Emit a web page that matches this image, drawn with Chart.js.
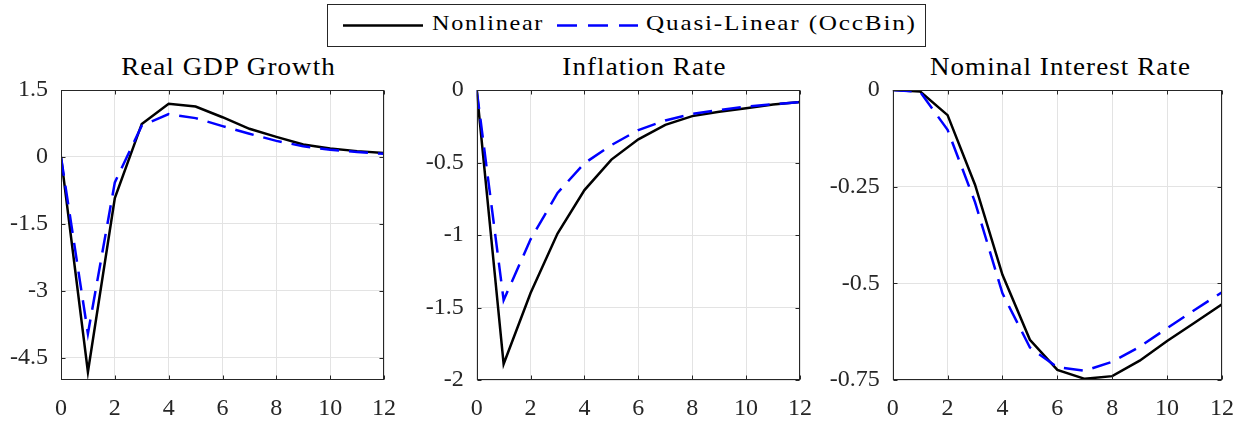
<!DOCTYPE html>
<html>
<head>
<meta charset="utf-8">
<script src="https://cdn.jsdelivr.net/npm/chart.js@4.4.1/dist/chart.umd.min.js"></script>
<style>
  body{margin:0;background:#fff;width:1248px;height:421px;overflow:hidden;position:relative;font-family:"Liberation Serif",serif;}
  canvas{position:absolute;top:50px;}
  #legend{position:absolute;left:327px;top:4px;width:599px;height:43px;box-sizing:border-box;border:1px solid #262626;background:#fff;}
  #legend svg{position:absolute;left:0;top:0;}
  #legend span{position:absolute;top:8px;font-size:21px;line-height:21px;letter-spacing:1.5px;color:#000;white-space:nowrap;transform-origin:0 50%;}
  .title{position:absolute;top:54px;font-size:25px;line-height:25px;letter-spacing:1px;text-align:center;color:#000;white-space:nowrap;transform:scaleX(1.08);}
</style>
</head>
<body>
<div id="legend">
  <svg width="597" height="41">
    <line x1="15" y1="20.5" x2="95" y2="20.5" stroke="#000" stroke-width="2.5"/>
    <line x1="229" y1="20.5" x2="310" y2="20.5" stroke="#0000ff" stroke-width="2.5" stroke-dasharray="20 11"/>
  </svg>
  <span style="left:104px;transform:scaleX(1.15)">Nonlinear</span>
  <span style="left:318px;transform:scaleX(1.2)">Quasi-Linear (OccBin)</span>
</div>
<div class="title" style="left:61px;width:335px">Real GDP Growth</div>
<div class="title" style="left:477px;width:335px">Inflation Rate</div>
<div class="title" style="left:893px;width:335px">Nominal Interest Rate</div>
<canvas id="gdp" width="410" height="371" style="left:0px"></canvas>
<canvas id="infl" width="416" height="371" style="left:410px"></canvas>
<canvas id="rate" width="428" height="371" style="left:820px"></canvas>
<script>
const periods = [0,1,2,3,4,5,6,7,8,9,10,11,12];
const xTicks = [0,2,4,6,8,10,12];

const gdpNonlinear = [0, -4.82, -0.92, 0.74, 1.19, 1.13, 0.89, 0.63, 0.45, 0.28, 0.19, 0.13, 0.09];
const gdpOccBin = [0, -3.96, -0.57, 0.70, 0.96, 0.87, 0.69, 0.52, 0.36, 0.24, 0.16, 0.11, 0.07];
const gdpTicks = [-4.5, -3, -1.5, 0, 1.5];

const inflNonlinear = [0, -1.89, -1.40, -0.99, -0.69, -0.48, -0.34, -0.24, -0.18, -0.15, -0.126, -0.10, -0.083];
const inflOccBin = [0, -1.45, -1.03, -0.71, -0.505, -0.38, -0.276, -0.21, -0.165, -0.138, -0.115, -0.098, -0.083];
const inflTicks = [-2, -1.5, -1, -0.5, 0];

const rateNonlinear = [0, -0.004, -0.065, -0.245, -0.478, -0.646, -0.724, -0.747, -0.74, -0.70, -0.649, -0.602, -0.554];
const rateOccBin = [0, -0.005, -0.103, -0.29, -0.526, -0.666, -0.717, -0.726, -0.703, -0.664, -0.616, -0.569, -0.523];
const rateTicks = [-0.75, -0.5, -0.25, 0];

const axisColor = "#262626";
const gridColor = "#e3e3e3";
const font = "'Liberation Serif', 'Times New Roman', serif";

// box round the plot + inward ticks, like matlab's "box on"
const boxPlugin = {
  id: "box",
  afterDatasetsDraw(chart){
    const { ctx, chartArea: a, scales: { x, y } } = chart;
    const l = Math.round(a.left) + 0.5, r = Math.round(a.right) - 0.5;
    const t = Math.round(a.top) + 0.5, b = Math.round(a.bottom) - 0.5;
    ctx.save();
    ctx.strokeStyle = axisColor;
    ctx.lineWidth = 1;
    ctx.strokeRect(l, t, r - l, b - t);
    ctx.beginPath();
    x.ticks.forEach(tk => {
      const px = Math.round(x.getPixelForValue(tk.value)) + 0.5;
      ctx.moveTo(px, b); ctx.lineTo(px, b - 4);
      ctx.moveTo(px, t); ctx.lineTo(px, t + 4);
    });
    y.ticks.forEach(tk => {
      const py = Math.round(y.getPixelForValue(tk.value)) + 0.5;
      ctx.moveTo(l, py); ctx.lineTo(l + 4, py);
      ctx.moveTo(r, py); ctx.lineTo(r - 4, py);
    });
    ctx.stroke();
    ctx.restore();
  }
};

function points(values){
  return periods.map((p, i) => ({ x: p, y: values[i] }));
}

function makeChart(id, nonlin, occ, yMin, yMax, yTicks, yWidth, padRight){
  return new Chart(document.getElementById(id), {
    type: "line",
    data: {
      datasets: [
        { label: "Nonlinear", data: points(nonlin), borderColor: "#000", borderWidth: 2.5, pointRadius: 0, tension: 0, order: 1 },
        { label: "Quasi-Linear (OccBin)", data: points(occ), borderColor: "#0000ff", borderWidth: 2.5, borderDash: [19, 10], pointRadius: 0, tension: 0, order: 0 }
      ]
    },
    options: {
      responsive: false,
      animation: false,
      layout: { padding: { top: 40, right: padRight } },
      plugins: {
        legend: { display: false },
        tooltip: { enabled: false }
      },
      scales: {
        x: {
          type: "linear", min: 0, max: 12,
          afterBuildTicks: s => { s.ticks = xTicks.map(v => ({ value: v })); },
          afterFit: s => { s.height = 41; },
          grid: { color: gridColor, drawTicks: false },
          border: { display: false },
          ticks: { color: axisColor, font: { family: font, size: 24 }, padding: 14, maxRotation: 0, callback: v => String(v) }
        },
        y: {
          min: yMin, max: yMax,
          afterBuildTicks: s => { s.ticks = yTicks.map(v => ({ value: v })); },
          afterFit: s => { s.width = yWidth; },
          grid: { color: gridColor, drawTicks: false },
          border: { display: false },
          ticks: { color: axisColor, font: { family: font, size: 24 }, padding: 13, callback: v => String(v) }
        }
      }
    },
    plugins: [boxPlugin]
  });
}

makeChart("gdp", gdpNonlinear, gdpOccBin, -5, 1.5, gdpTicks, 61, 14);
makeChart("infl", inflNonlinear, inflOccBin, -2, 0, inflTicks, 66.7, 14.3);
makeChart("rate", rateNonlinear, rateOccBin, -0.75, 0, rateTicks, 72.7, 20.7);
</script>
</body>
</html>
